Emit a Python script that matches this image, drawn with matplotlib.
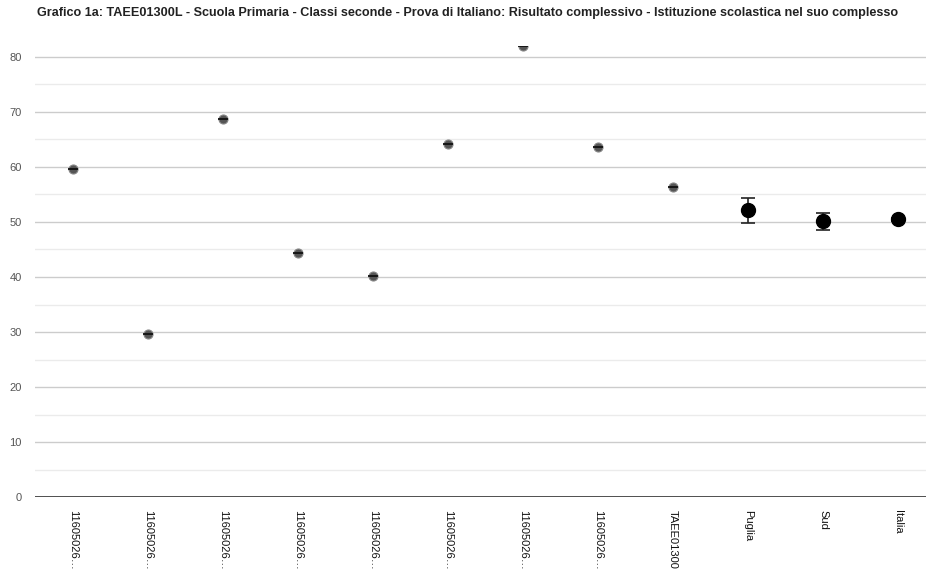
import numpy as np
import matplotlib
matplotlib.use("Agg")
import matplotlib.pyplot as plt
from matplotlib.ticker import MultipleLocator

plt.rcParams['font.family'] = ['Liberation Sans', 'DejaVu Sans']

# dati
categorie = ["11605026…"] * 8 + ["TAEE01300", "Puglia", "Sud", "Italia"]
punteggi_classi = [59.7, 29.7, 68.7, 44.3, 40.2, 64.1, 82.0, 63.6, 56.4]
riferimenti = [52.2, 50.1, 50.5]
rif_basso = [49.9, 48.5, 50.2]
rif_alto = [54.4, 51.7, 50.8]

titolo = ("Grafico 1a: TAEE01300L - Scuola Primaria - Classi seconde - Prova di Italiano: "
          "Risultato complessivo - Istituzione scolastica nel suo complesso")

fig = plt.figure(figsize=(9.26, 5.72), dpi=100)
ax = fig.add_axes([0.0383, 0.1311, 0.9617, 0.7885])

x = np.arange(len(categorie))
xc = x[:len(punteggi_classi)]
xr = x[len(punteggi_classi):]

# scuola e classi: punti piccoli con intervallo nullo
ax.plot(xc, punteggi_classi, 'o', ms=6.5, color='#555555', mec='#888888', mew=0.8,
        zorder=3)
ax.plot(xc, punteggi_classi, '_', ms=6.5, color='#111111', mew=1.3, zorder=4)

# riferimenti con intervalli
r = np.array(riferimenti)
err = [r - np.array(rif_basso), np.array(rif_alto) - r]
ax.errorbar(xr, r, yerr=err, fmt='o', ms=10, color='black', ecolor='#222222',
            elinewidth=1.2, capsize=5, capthick=1.2, zorder=4)

ax.set_xlim(-0.5, 11.373)
ax.set_ylim(0, 82)
ax.yaxis.set_major_locator(MultipleLocator(10))
ax.yaxis.set_minor_locator(MultipleLocator(5))
ax.grid(axis='y', which='major', color='#cccccc', lw=1)
ax.grid(axis='y', which='minor', color='#ebebeb', lw=1)
ax.set_axisbelow(True)
ax.axhline(0, color='#333333', lw=1.2, zorder=2)

for s in ax.spines.values():
    s.set_visible(False)

ax.set_xticks(x)
ax.set_xticklabels(categorie, rotation=270, fontsize=8, color='#111111',
                   va='top', ha='center')
ax.tick_params(axis='x', length=0, pad=9)
ax.tick_params(axis='y', which='both', length=0, pad=10, labelsize=8,
               labelcolor='#555555')

fig.text(0.04, 0.977, titolo, fontsize=9.1, fontweight='bold', color='#222222',
         va='center', ha='left')

fig.savefig("out.png", dpi=100)
